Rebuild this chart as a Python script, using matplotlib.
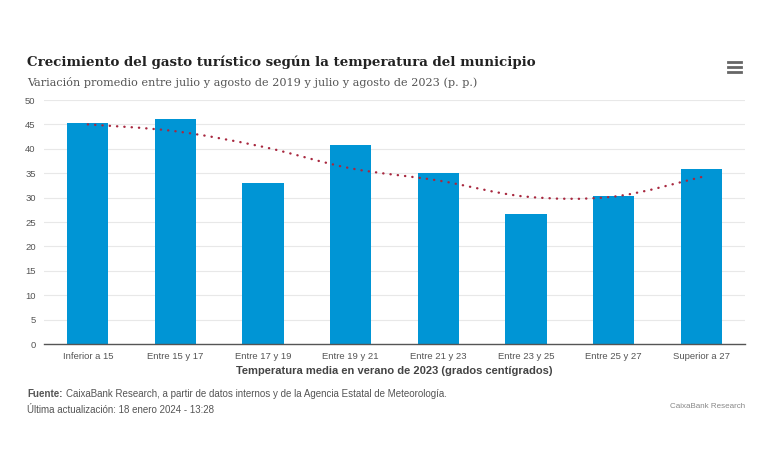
import matplotlib.pyplot as plt
from matplotlib.path import Path
from matplotlib.patches import PathPatch
from matplotlib.lines import Line2D

categories = ['Inferior a 15', 'Entre 15 y 17', 'Entre 17 y 19', 'Entre 19 y 21',
              'Entre 21 y 23', 'Entre 23 y 25', 'Entre 25 y 27', 'Superior a 27']
growth = [45.2, 46.2, 32.9, 40.8, 35.0, 26.6, 30.4, 35.9]
trend = [45.0, 43.6, 40.4, 36.0, 33.5, 30.2, 30.2, 34.2]
y_ticks = [0, 5, 10, 15, 20, 25, 30, 35, 40, 45, 50]

sans = ['Liberation Sans', 'DejaVu Sans']
serif = ['DejaVu Serif']

fig = plt.figure(figsize=(7.7, 4.5), dpi=100)
ax = fig.add_axes([44/770, 1 - 344/450, 701/770, 244/450])

xs = list(range(len(categories)))
ax.bar(xs, growth, width=0.47, color='#0095d5', zorder=2)

# smooth trend line (spline-like bezier through the points)
verts = [(xs[0], trend[0])]
codes = [Path.MOVETO]
k = 6.0
for i in range(len(xs) - 1):
    p0 = (xs[i - 1], trend[i - 1]) if i > 0 else (xs[i], trend[i])
    p1 = (xs[i], trend[i])
    p2 = (xs[i + 1], trend[i + 1])
    p3 = (xs[i + 2], trend[i + 2]) if i + 2 < len(xs) else p2
    c1 = (p1[0] + (p2[0] - p0[0]) / k, p1[1] + (p2[1] - p0[1]) / k)
    c2 = (p2[0] - (p3[0] - p1[0]) / k, p2[1] - (p3[1] - p1[1]) / k)
    verts += [c1, c2, p2]
    codes += [Path.CURVE4] * 3
ax.add_patch(PathPatch(Path(verts, codes), fill=False, edgecolor='#a8283f',
                       lw=1.7, linestyle=(0, (0.1, 3.0)), capstyle='round', zorder=3))

ax.set_xlim(-0.5, len(categories) - 0.5)
ax.set_ylim(0, 50)
ax.set_yticks(y_ticks)
ax.set_xticks(xs)
ax.set_xticklabels(categories, family=sans, fontsize=6.8, color='#555555')
ax.set_yticklabels([str(t) for t in y_ticks], family=sans, fontsize=6.8, color='#555555')
ax.tick_params(axis='both', length=0, pad=6)
ax.grid(axis='y', color='#e8e8e8', lw=0.8, zorder=0)
ax.set_axisbelow(True)
for s in ['top', 'right', 'left']:
    ax.spines[s].set_visible(False)
ax.spines['bottom'].set_color('#555555')
ax.spines['bottom'].set_linewidth(1)
ax.set_xlabel('Temperatura media en verano de 2023 (grados centígrados)',
              family=sans, fontsize=8, fontweight='bold', color='#444444', labelpad=3)

fig.text(27/770, 1 - 62/450, 'Crecimiento del gasto turístico según la temperatura del municipio',
         family=serif, fontsize=9.6, fontweight='bold', color='#222222', va='center')
fig.text(27/770, 1 - 82/450, 'Variación promedio entre julio y agosto de 2019 y julio y agosto de 2023 (p. p.)',
         family=serif, fontsize=8.1, color='#555555', va='center')

src = fig.text(27/770, 1 - 394/450, 'Fuente:', family=sans, fontsize=7, fontweight='bold',
               color='#555555', va='center')
renderer = fig.canvas.get_renderer()
bb = src.get_window_extent(renderer)
fig.text((bb.x1 + 3) / 770, 1 - 394/450,
         'CaixaBank Research, a partir de datos internos y de la Agencia Estatal de Meteorología.',
         family=sans, fontsize=7, color='#555555', va='center')
fig.text(27/770, 1 - 410/450, 'Última actualización: 18 enero 2024 - 13:28',
         family=sans, fontsize=7, color='#555555', va='center')
fig.text(745/770, 1 - 406/450, 'CaixaBank Research', family=sans, fontsize=5.8,
         color='#888888', va='center', ha='right')

# menu icon
for yy in [62, 67, 72]:
    fig.add_artist(Line2D([728/770, 741/770], [1 - yy/450, 1 - yy/450],
                          color='#666666', lw=2, transform=fig.transFigure))

fig.savefig('out.png', dpi=100, facecolor='white')
